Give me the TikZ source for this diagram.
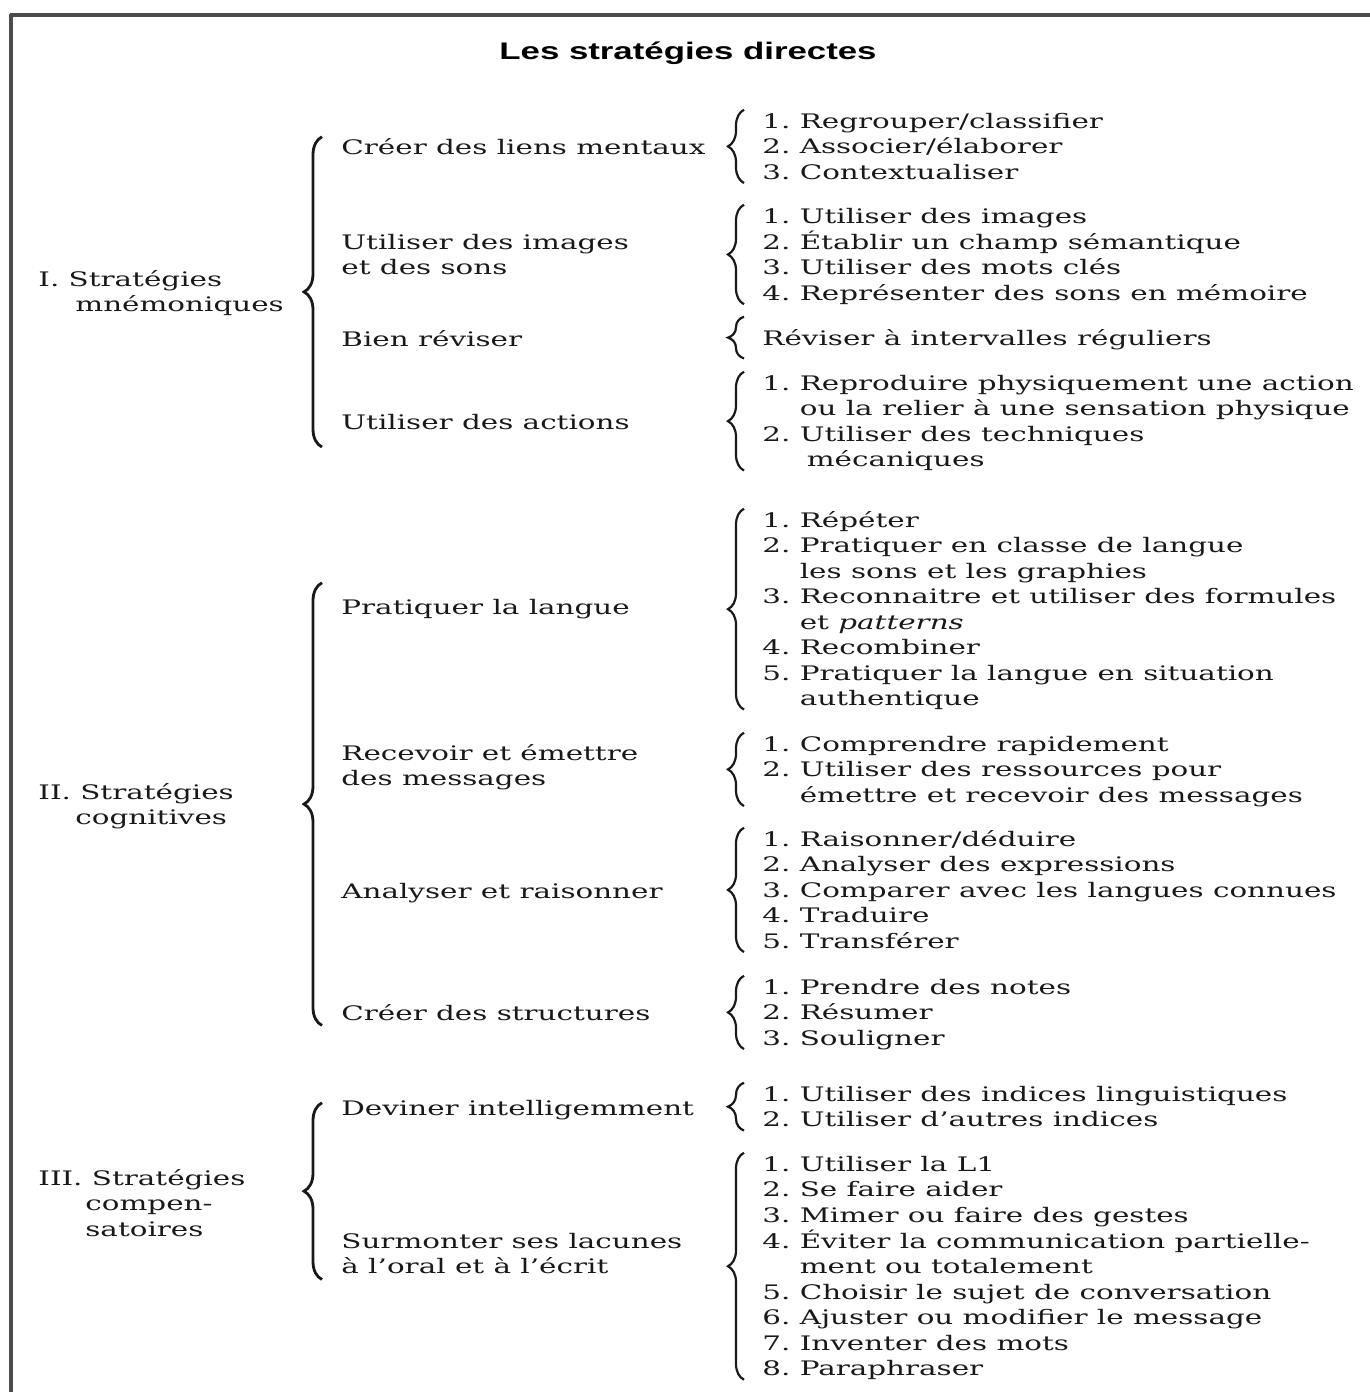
\documentclass[tikz,border=0pt]{standalone}
\usepackage{fontspec}
\setmainfont[FakeStretch=1.47]{DejaVu Serif}
\newfontfamily\titlefont[FakeStretch=1.45]{Liberation Sans}
\usepackage{tikz}
\usetikzlibrary{decorations.pathreplacing}
\newcommand{\items}[1]{\begin{tabular}[t]{@{}r@{\ }l@{}}#1\end{tabular}}
\newcommand{\lignes}[1]{\begin{tabular}[t]{@{}l@{}}#1\end{tabular}}

\begin{document}
\begin{tikzpicture}[x=0.5pt, y=-0.5pt,
    txt/.style={inner sep=0pt, anchor=base west, text=black!90, font=\fontsize{10}{12.75}\selectfont},
    brc/.style={line width=1.1pt, black!90, decorate, decoration={brace, amplitude=8pt}},
    bigbrc/.style={line width=1.4pt, black!90, decorate, decoration={brace, amplitude=9pt}}]
    \useasboundingbox (0,0) rectangle (1370,1392);
    \draw[line width=1.6pt, black!70] (10,15) -- (1370,15);
    \draw[line width=1.6pt, black!70] (11,14.2) -- (11,1392);
    \node[inner sep=0pt, text=black, font=\titlefont\bfseries\fontsize{12}{14}\selectfont] (titre) at (688,53) {Les stratégies directes};

    \node[txt] (mnemo) at (38,286) {\lignes{I. Stratégies\\\hspace*{18.5pt}mnémoniques}};
    \node[txt] (cogni) at (38,799) {\lignes{II. Stratégies\\\hspace*{18.5pt}cognitives}};
    \node[txt] (compen) at (38,1185) {\lignes{III. Stratégies\\\hspace*{23.5pt}compen-\\\hspace*{23.5pt}satoires}};

    \node[txt] (liens) at (341,154) {\lignes{Créer des liens mentaux}};
    \node[txt] (images) at (341,249) {\lignes{Utiliser des images\\et des sons}};
    \node[txt] (reviser) at (341,346) {\lignes{Bien réviser}};
    \node[txt] (actions) at (341,429) {\lignes{Utiliser des actions}};
    \node[txt] (pratiquer) at (341,614) {\lignes{Pratiquer la langue}};
    \node[txt] (recevoir) at (341,760) {\lignes{Recevoir et émettre\\des messages}};
    \node[txt] (analyser) at (341,898) {\lignes{Analyser et raisonner}};
    \node[txt] (structures) at (341,1020) {\lignes{Créer des structures}};
    \node[txt] (deviner) at (341,1115) {\lignes{Deviner intelligemment}};
    \node[txt] (lacunes) at (341,1248) {\lignes{Surmonter ses lacunes\\à l'oral et à l'écrit}};

    \node[txt] (Lliens) at (762,128) {\items{1. & Regrouper/classifier\\ 2. & Associer/élaborer\\ 3. & Contextualiser}};
    \node[txt] (Limages) at (762,223) {\items{1. & Utiliser des images\\ 2. & Établir un champ sémantique\\ 3. & Utiliser des mots clés\\ 4. & Représenter des sons en mémoire}};
    \node[txt] (Lreviser) at (762,345) {\lignes{Réviser à intervalles réguliers}};
    \node[txt] (Lactions) at (762,390) {\items{1. & Reproduire physiquement une action\\ & ou la relier à une sensation physique\\ 2. & Utiliser des techniques\\ & \hspace*{3.5pt}mécaniques}};
    \node[txt] (Lpratiquer) at (762,527) {\items{1. & Répéter\\ 2. & Pratiquer en classe de langue\\ & les sons et les graphies\\ 3. & Reconnaitre et utiliser des formules\\ & et \textit{patterns}\\ 4. & Recombiner\\ 5. & Pratiquer la langue en situation\\ & authentique}};
    \node[txt] (Lrecevoir) at (762,751) {\items{1. & Comprendre rapidement\\ 2. & Utiliser des ressources pour\\ & émettre et recevoir des messages}};
    \node[txt] (Lanalyser) at (762,846) {\items{1. & Raisonner/déduire\\ 2. & Analyser des expressions\\ 3. & Comparer avec les langues connues\\ 4. & Traduire\\ 5. & Transférer}};
    \node[txt] (Lstructures) at (762,994) {\items{1. & Prendre des notes\\ 2. & Résumer\\ 3. & Souligner}};
    \node[txt] (Ldeviner) at (762,1101) {\items{1. & Utiliser des indices linguistiques\\ 2. & Utiliser d'autres indices}};
    \node[txt] (Llacunes) at (762,1171) {\items{1. & Utiliser la L1\\ 2. & Se faire aider\\ 3. & Mimer ou faire des gestes\\ 4. & Éviter la communication partielle-\\ & ment ou totalement\\ 5. & Choisir le sujet de conversation\\ 6. & Ajuster ou modifier le message\\ 7. & Inventer des mots\\ 8. & Paraphraser}};

    \draw[bigbrc] ([shift={(-9.5pt,-5pt)}]actions.south west) -- ([shift={(-9.5pt,-0.5pt)}]liens.north west);
    \draw[bigbrc] ([shift={(-9.5pt,1.3pt)}]structures.south west) -- ([shift={(-9.5pt,6.5pt)}]pratiquer.north west);
    \draw[bigbrc] ([shift={(-9.5pt,1pt)}]lacunes.south west) -- ([shift={(-9.5pt,-3pt)}]deviner.north west);

    \foreach \g in {Lliens,Limages,Lactions,Lpratiquer,Lrecevoir,Lanalyser,Lstructures,Ldeviner,Llacunes}
        \draw[brc] ([shift={(-9pt,2pt)}]\g.south west) -- ([shift={(-9pt,0pt)}]\g.north west);
    \draw[brc] ([shift={(-9pt,-2.7pt)}]Lreviser.south west) -- ([shift={(-9pt,5pt)}]Lreviser.north west);
\end{tikzpicture}
\end{document}
